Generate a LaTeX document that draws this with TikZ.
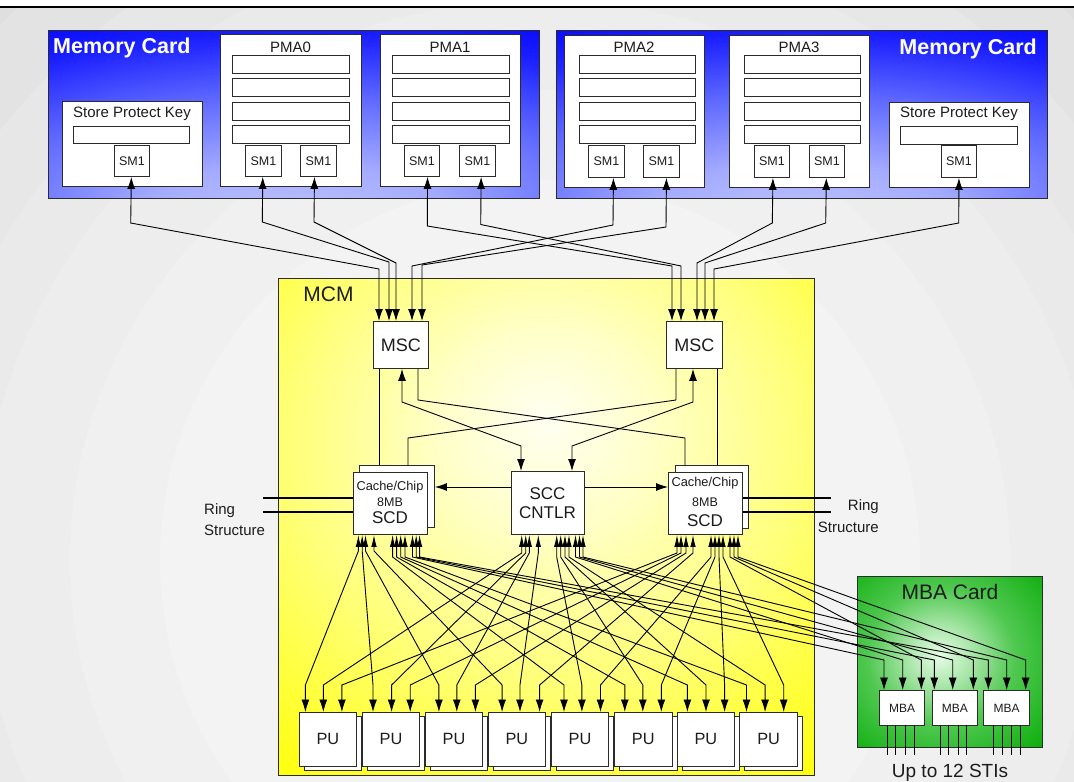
\documentclass[tikz,border=0pt]{standalone}
\usepackage{fontspec}
\setmainfont{Liberation Sans}
\usetikzlibrary{arrows.meta}

\definecolor{ink}{HTML}{1C1C1C}
\definecolor{edgec}{HTML}{2B2B2B}
\definecolor{bg0}{HTML}{DFDFDF}
\definecolor{bg1}{HTML}{E3E3E3}
\definecolor{bg2}{HTML}{E7E7E7}
\definecolor{bg3}{HTML}{EAEAEA}
\definecolor{bg4}{HTML}{EDEDED}
\definecolor{bg5}{HTML}{F0F0F0}
\definecolor{bg6}{HTML}{F3F3F3}
\definecolor{bA}{RGB}{195,200,255}
\definecolor{bB}{RGB}{165,172,255}
\definecolor{bC}{RGB}{95,105,255}
\definecolor{bD}{RGB}{25,30,255}
\definecolor{bE}{RGB}{0,0,255}
\definecolor{yA}{RGB}{255,255,242}
\definecolor{yB}{RGB}{255,255,200}
\definecolor{yC}{RGB}{255,255,120}
\definecolor{yD}{RGB}{255,255,0}
\definecolor{gA}{RGB}{230,252,230}
\definecolor{gB}{RGB}{175,232,175}
\definecolor{gC}{RGB}{80,200,80}
\definecolor{gD}{RGB}{10,172,10}

\pgfdeclareradialshading{memshade}{\pgfpoint{0bp}{-35bp}}{color(0bp)=(bA); color(15bp)=(bB); color(30bp)=(bC); color(44bp)=(bD); color(54bp)=(bE); color(100bp)=(bE)}
\pgfdeclareradialshading{mcmshade}{\pgfpoint{0bp}{11bp}}{color(0bp)=(yA); color(10bp)=(yB); color(24bp)=(yC); color(42bp)=(yD); color(100bp)=(yD)}
\pgfdeclareradialshading{mbashade}{\pgfpoint{-3bp}{2bp}}{color(0bp)=(gA); color(8bp)=(gB); color(20bp)=(gC); color(38bp)=(gD); color(100bp)=(gD)}

\newcommand\boxat[7]{\node[#1, anchor=north west, minimum width={(#5)-(#3)}, minimum height={(#6)-(#4)}] (#2) at (#3,#4) {#7};}
\newcommand\pmabars[2]{\foreach \yy in {55,78.5,102,125.5}{\draw[barst] (#1,\yy) rectangle (#2,\yy+18);}}

\begin{document}
\begin{tikzpicture}[x=1pt,y=-1pt,
 box/.style={draw=edgec, fill=white, line width=0.9pt, inner sep=0pt, text=ink},
 card/.style={draw=edgec, line width=1pt, shade, inner sep=0pt},
 barst/.style={draw=edgec, fill=white, line width=0.9pt},
 lbl/.style={text=ink, inner sep=0pt},
 f12/.style={font=\fontsize{12.5}{14}\selectfont},
 f15/.style={font=\fontsize{15}{17}\selectfont},
 f16/.style={font=\fontsize{16.3}{18}\selectfont},
 f17/.style={font=\fontsize{17}{19}\selectfont},
 f18/.style={font=\fontsize{18}{20}\selectfont},
 f19/.style={font=\fontsize{19}{21}\selectfont},
 f21/.style={font=\fontsize{21}{24}\selectfont},
 wire/.style={draw=black, line width=0.9pt},
 dbl/.style={wire, {Latex[length=12pt,width=8pt]}-{Latex[length=12pt,width=8pt]}},
 one/.style={wire, -{Latex[length=12pt,width=8pt]}},
 xb/.style={wire, {Latex[length=12pt,width=5.5pt]}-{Latex[length=12.5pt,width=8pt]}},
 ring/.style={draw=black, line width=2.6pt}]

\useasboundingbox (0,0) rectangle (1074,782);
% background
\fill[white] (0,0) rectangle (1074,782);
\begin{scope}
\clip (0,7) rectangle (1074,782);
\fill[bg0] (0,7) rectangle (1074,782);
\foreach \r/\c in {760/bg1,690/bg2,625/bg3,560/bg4,470/bg5,380/bg6}{\fill[\c] (540,560) circle[radius=\r];}
\end{scope}
\draw[line width=1.5pt] (0,7) -- (1074,7);

% ---------- left memory card
\node[card, shading=memshade, anchor=north west, minimum width=491, minimum height=168] (memL) at (48,30) {};
\node[lbl, anchor=west, text=white, font=\bfseries\fontsize{21.5}{24}\selectfont] (memLt) at (53,48) {Memory Card};
\boxat{box}{spkL}{62}{101}{202}{186}{}
\node[lbl, f15] (spkLt) at (132,114) {Store Protect Key};
\draw[barst] (73,126) rectangle (189,143);
\boxat{box, f12}{smA}{114}{145}{149}{176}{SM1}

\boxat{box}{pma0}{220}{34}{361}{186}{}
\node[lbl, f15] (pma0t) at (290.5,47) {PMA0};
\pmabars{232}{349}
\boxat{box, f12}{smB}{245}{145}{281}{176}{SM1}
\boxat{box, f12}{smC}{300}{145}{336}{176}{SM1}

\boxat{box}{pma1}{380}{34}{520}{186}{}
\node[lbl, f15] (pma1t) at (450,47) {PMA1};
\pmabars{392}{509}
\boxat{box, f12}{smD}{404}{145}{439}{176}{SM1}
\boxat{box, f12}{smE}{459}{145}{495}{176}{SM1}

% ---------- right memory card
\node[card, shading=memshade, anchor=north west, minimum width=491, minimum height=168] (memR) at (556,30) {};
\node[lbl, anchor=east, text=white, font=\bfseries\fontsize{21.5}{24}\selectfont] (memRt) at (1037,49) {Memory Card};
\boxat{box}{pma2}{564}{35}{704}{187}{}
\node[lbl, f15] (pma2t) at (634,47) {PMA2};
\pmabars{579}{695}
\boxat{box, f12}{smF}{588}{145}{624}{177}{SM1}
\boxat{box, f12}{smG}{643}{145}{679}{177}{SM1}

\boxat{box}{pma3}{729}{35}{869}{187}{}
\node[lbl, f15] (pma3t) at (799,47) {PMA3};
\pmabars{744}{860}
\boxat{box, f12}{smH}{754}{145}{789}{177}{SM1}
\boxat{box, f12}{smI}{809}{145}{844}{177}{SM1}

\boxat{box}{spkR}{889}{102}{1029}{187}{}
\node[lbl, f15] (spkRt) at (959,114) {Store Protect Key};
\draw[barst] (900,126) rectangle (1017,144);
\boxat{box, f12}{smJ}{941}{145}{976}{177}{SM1}

% ---------- MCM
\node[card, shading=mcmshade, anchor=north west, minimum width=536, minimum height=497] (mcm) at (278,278) {};
\node[lbl, f21] (mcmt) at (328.5,294) {MCM};

\boxat{box, f18}{mscL}{373}{321}{428}{368}{MSC}
\boxat{box, f18}{mscR}{666}{321}{722}{368}{MSC}

\boxat{box}{scdLb}{359}{465}{434}{527}{}
\boxat{box}{scdL}{353}{472}{427}{534}{}
\node[lbl, font=\fontsize{12.8}{14}\selectfont] (scdLt1) at (390,487) {Cache/Chip};
\node[lbl, f12] (scdLt2) at (390,502) {8MB};
\node[lbl, f17] (scdLt3) at (390,518) {SCD};

\boxat{box}{scdRb}{675}{465}{748}{528}{}
\boxat{box}{scdR}{668}{472}{742}{534}{}
\node[lbl, font=\fontsize{12.8}{14}\selectfont] (scdRt1) at (705,483) {Cache/Chip};
\node[lbl, f12] (scdRt2) at (705,502) {8MB};
\node[lbl, f17] (scdRt3) at (705,521) {SCD};

\boxat{box}{scc}{511}{471}{584}{534}{}
\node[lbl, f17] (scct1) at (547.5,494) {SCC};
\node[lbl, f17] (scct2) at (547.5,513) {CNTLR};

\foreach \x [count=\i] in {298.6,361.8,424.7,487.6,550.8,614,676.6,739.4}{
 \node[box, anchor=north west, minimum width=57.6, minimum height=54] (pub\i) at (\x+5,716) {};
 \node[box, anchor=north west, minimum width=57.6, minimum height=54, f16] (pu\i) at (\x,712) {PU};
}

% ---------- MBA card
\node[card, shading=mbashade, anchor=north west, minimum width=185, minimum height=171] (mbac) at (857,576) {};
\node[lbl, f21] (mbact) at (950,592) {MBA Card};
\boxat{box, font=\fontsize{12}{14}\selectfont}{mba1}{879}{690}{924.3}{725}{MBA}
\boxat{box, font=\fontsize{12}{14}\selectfont}{mba2}{931.7}{690}{977.3}{725}{MBA}
\boxat{box, font=\fontsize{12}{14}\selectfont}{mba3}{983.3}{690}{1029}{725}{MBA}
\foreach \s/\m [count=\k] in {887.7/1,895.7/1,905.7/1,914.7/1,940/2,948.3/2,958.3/2,966.7/2,993.3/3,1002/3,1011.7/3,1020.7/3}{
 \coordinate (sti\k) at (\s,755);
 \draw[wire] (\s,0 |- mba\m.south) -- (sti\k);
}
\node[lbl, f19] (stis) at (950,773) {Up to 12 STIs};

% ---------- ring structure
\coordinate (ringL1) at (263,498);
\coordinate (ringL2) at (263,512);
\coordinate (ringR1) at (831,498);
\coordinate (ringR2) at (831,512);
\draw[ring] (ringL1) -- (scdL.west |- ringL1);
\draw[ring] (ringL2) -- (scdL.west |- ringL2);
\draw[ring] (scdR.east |- ringR1) -- (ringR1);
\draw[ring] (scdR.east |- ringR2) -- (ringR2);
\node[lbl, f15, anchor=west] (ringLt1) at (204,511) {Ring};
\node[lbl, f15, anchor=west] (ringLt2) at (204,530) {Structure};
\node[lbl, f15, anchor=east] (ringRt1) at (879,507) {Ring};
\node[lbl, f15, anchor=east] (ringRt2) at (879,527) {Structure};

% ---------- memory wires
\draw[dbl] ([xshift=-0.6pt]smA.south) -- (130.7,223) -- (379,269) -- (379,0 |- mscL.north);
\draw[dbl] ([xshift=-0.7pt]smB.south) -- (262.3,222) -- (389,262) -- (389,0 |- mscL.north);
\draw[dbl] ([xshift=-4pt]smC.south) -- (314,222) -- (396,263) -- (396,0 |- mscL.north);
\draw[dbl] ([xshift=5.6pt]smD.south) -- (427.3,226) -- (672,266) -- (672,0 |- mscR.north);
\draw[dbl] ([xshift=3.7pt]smE.south) -- (480.7,224.5) -- (681,266) -- (681,0 |- mscR.north);
\draw[dbl] ([xshift=7pt]smF.south) -- (613,225) -- (412,266) -- (412,0 |- mscL.north);
\draw[dbl] ([xshift=5pt]smG.south) -- (666,227) -- (422,265) -- (422,0 |- mscL.north);
\draw[dbl] ([xshift=1pt]smH.south) -- (772.3,223) -- (697,263) -- (697,0 |- mscR.north);
\draw[dbl] ([xshift=-0.6pt]smI.south) -- (825.7,223) -- (705,263) -- (705,0 |- mscR.north);
\draw[dbl] (smJ.south) -- (958.7,223) -- (714,269) -- (714,0 |- mscR.north);

% ---------- MSC to SCD / SCC
\draw[wire] (379,0 |- mscL.south) -- (379,0 |- scdLb.north);
\draw[dbl] (402,0 |- mscL.south) -- (402,402) -- (521,446) -- (521,0 |- scc.north);
\draw[wire] (418,0 |- mscL.south) -- (418,400) -- (685,438) -- (685,0 |- scdRb.north);
\draw[wire] (676,0 |- mscR.south) -- (676,400) -- (408,438) -- (408,0 |- scdLb.north);
\draw[dbl] (693,0 |- mscR.south) -- (693,402) -- (572,446) -- (572,0 |- scc.north);
\draw[wire] (717,0 |- mscR.south) -- (717,0 |- scdRb.north);
\draw[one] (scc.west |- 0,487) -- (scdLb.east |- 0,487);
\draw[one] (scc.east |- 0,487) -- (scdR.west |- 0,487);

% ---------- crossbar to PUs
\foreach \p/\t/\n/\b in {358.4/305.4/1/551,362.2/373/2/551,365.5/438.9/3/551,374/502.1/4/551,392.6/564/5/557,396.6/624.8/6/557,400.7/687.4/7/557,405/746.5/8/557}{
 \draw[xb] (\p,0 |- scdL.south) -- (\p,\b) -- (\t,685) -- (\t,0 |- pu\n.north);}
\foreach \p/\t/\n/\b in {521.7/323.3/1/553,525.7/391.6/2/553,529.3/456.8/3/553,538.3/520/4/553,556.7/581.9/5/557,560.7/642.8/6/557,565/706/7/557,569/765.1/8/557}{
 \draw[xb] (\p,0 |- scc.south) -- (\p,\b) -- (\t,685) -- (\t,0 |- pu\n.north);}
\foreach \p/\t/\n/\b in {677/341.9/1/553,681/410.2/2/553,686/475.4/3/553,693/539.6/4/553,711/600.5/5/557,715/661.3/6/557,719/724.6/7/557,723/783.7/8/557}{
 \draw[xb] (\p,0 |- scdR.south) -- (\p,\b) -- (\t,685) -- (\t,0 |- pu\n.north);}
% ---------- crossbar to MBAs
\foreach \p/\t/\n in {412.5/884/1,416.2/934.3/2,419.6/988.3/3}{
 \draw[xb] (\p,0 |- scdL.south) -- (\p,557) -- (\t,660) -- (\t,0 |- mba\n.north);}
\foreach \p/\t/\n in {575.5/902.7/1,579.5/952.7/2,583/1006.7/3}{
 \draw[xb] (\p,0 |- scc.south) -- (\p,557) -- (\t,660) -- (\t,0 |- mba\n.north);}
\foreach \p/\t/\n in {730/921.3/1,734/973.3/2,738/1025.7/3}{
 \draw[xb] (\p,0 |- scdR.south) -- (\p,557) -- (\t,660) -- (\t,0 |- mba\n.north);}
\end{tikzpicture}
\end{document}
